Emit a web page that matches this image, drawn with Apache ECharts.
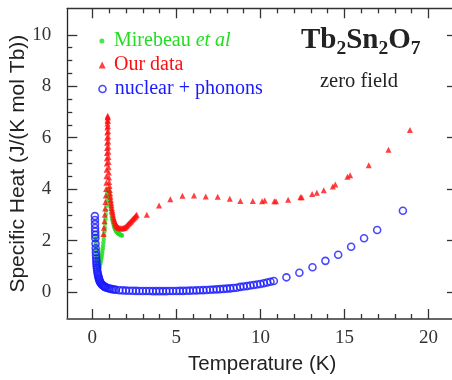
<!DOCTYPE html>
<html><head><meta charset="utf-8">
<script src="https://cdn.jsdelivr.net/npm/echarts@6/dist/echarts.min.js"></script>
<style>html,body{margin:0;padding:0;background:#fff}#c{width:452px;height:380px}</style>
</head><body><div id="c"></div>
<script>
// ---- tick positions ----
const xMajorTicks = [0, 5, 10, 15, 20];
const xMinorTicks = [1, 2, 3, 4, 6, 7, 8, 9, 11, 12, 13, 14, 16, 17, 18, 19];
const yMajorTicks = [0, 2, 4, 6, 8, 10];
const yMinorTicks = [0.5, 1, 1.5, 2.5, 3, 3.5, 4.5, 5, 5.5, 6.5, 7, 7.5, 8.5, 9, 9.5];

// ---- Mirebeau et al (green) ----
const mirebeauT = [0.19,0.20,0.21,0.22,0.23,0.24,0.25,0.26,0.27,0.28,0.29,0.30,0.31,0.32,0.33,0.34,0.35,0.36,0.37,0.38,0.39,0.40,
  0.42,0.44,0.46,0.48,0.50,0.52,0.54,0.56,0.58,0.60,0.62,0.64,0.66,0.68,0.70,0.72,0.74,0.76,0.78,0.80,0.82,0.84,0.86,0.88,0.90,0.92,0.94,0.96,0.98,1.00,1.02,1.04,1.06,1.08,1.10,
  1.13,1.16,1.19,1.22,1.25,1.28,1.31,1.34,1.37,1.40,1.43,1.46,1.49,1.52,1.55,1.58,1.61,1.64,1.67,1.70,1.73,1.76];
const mirebeauC = [2.20,2.05,1.90,1.77,1.65,1.54,1.44,1.35,1.27,1.20,1.13,1.07,1.02,0.98,0.94,0.91,0.89,0.88,0.88,0.89,0.90,0.92,
  0.97,1.02,1.08,1.14,1.20,1.27,1.34,1.42,1.51,1.60,1.70,1.81,1.93,2.06,2.20,2.35,2.50,2.66,2.83,3.00,3.17,3.35,3.53,3.70,3.85,3.96,4.00,3.96,3.88,3.80,3.68,3.56,3.44,3.32,3.21,
  3.06,2.93,2.82,2.73,2.65,2.58,2.52,2.46,2.42,2.38,2.35,2.33,2.31,2.29,2.27,2.26,2.25,2.24,2.23,2.22,2.21,2.20];

// ---- Our data (red) ----
const ourT = [0.66,0.69,0.72,0.74,0.76,0.78,0.80,0.82,0.83,0.84,0.85,0.86,0.865,0.87,0.875,0.88,0.885,0.89,0.895,0.90,0.905,0.91,0.915,
  0.92,0.925,0.93,0.935,0.94,0.945,0.95,0.955,0.96,0.965,0.97,0.98,0.99,1.00,1.02,1.04,1.06,1.08,1.10,1.12,1.14,1.16,1.18,1.20,
  1.23,1.26,1.29,1.32,1.35,1.38,1.41,1.44,1.47,1.50,1.55,1.60,1.65,1.70,1.75,1.80,1.85,1.90,1.95,2.00,2.05,2.10,2.15,2.20,2.25,2.30,2.35,2.40,2.45,2.50,2.55,2.60,2.64,
  3.24,3.97,4.64,5.36,6.05,6.75,7.46,8.18,8.81,9.55,10.10,10.26,10.83,10.93,11.65,12.38,12.46,13.08,13.36,13.77,14.31,14.46,15.18,15.34,16.45,17.62,18.90];
const ourC = [2.25,2.50,2.75,3.00,3.25,3.50,3.75,4.00,4.25,4.50,4.75,5.00,5.20,5.40,5.60,5.80,6.00,6.20,6.40,6.55,6.68,6.78,6.85,
  6.80,6.65,6.45,6.25,6.05,5.85,5.65,5.45,5.25,5.05,4.85,4.65,4.45,4.28,4.12,3.97,3.83,3.70,3.58,3.47,3.37,3.27,3.18,3.10,
  3.00,2.91,2.83,2.76,2.70,2.65,2.61,2.58,2.55,2.53,2.51,2.49,2.48,2.48,2.47,2.48,2.49,2.50,2.52,2.55,2.58,2.61,2.65,2.68,2.72,2.75,2.79,2.83,2.86,2.90,2.93,2.97,3.00,
  3.00,3.36,3.61,3.74,3.75,3.71,3.70,3.63,3.54,3.54,3.53,3.56,3.53,3.53,3.59,3.68,3.68,3.81,3.86,3.96,4.10,4.18,4.48,4.54,4.93,5.53,6.30];

// ---- nuclear + phonons (blue) ----
const nucT = [0.15,0.155,0.16,0.165,0.17,0.175,0.18,0.19,0.20,0.21,0.22,0.23,0.24,0.25,0.26,0.27,0.28,0.30,0.32,0.34,0.36,0.38,0.40,0.42,0.45,0.48,0.51,0.55,0.60,0.65,0.70,0.75,0.80,0.90,1.00,1.10,1.20,1.30,1.40,
  1.6,1.8,2.0,2.2,2.4,2.6,2.8,3.0,3.2,3.4,3.6,3.8,4.0,4.2,4.4,4.6,4.8,5.0,5.2,5.4,5.6,5.8,6.0,6.2,6.4,6.6,6.8,7.0,7.2,7.4,7.6,7.8,8.0,8.2,8.4,8.6,8.8,9.0,9.2,9.4,9.6,9.8,10.0,10.2,10.4,10.6,10.8,
  11.55,12.32,13.10,13.87,14.63,15.40,16.17,16.95,18.48];
const nucC = [2.95,2.80,2.64,2.49,2.35,2.22,2.09,1.88,1.70,1.55,1.42,1.30,1.20,1.11,1.03,0.96,0.89,0.80,0.72,0.66,0.60,0.55,0.50,0.46,0.41,0.37,0.34,0.30,0.27,0.24,0.22,0.20,0.18,0.155,0.135,0.12,0.105,0.095,0.085,
  0.070,0.062,0.055,0.050,0.046,0.043,0.041,0.039,0.037,0.036,0.035,0.035,0.034,0.035,0.035,0.036,0.038,0.040,0.042,0.045,0.048,0.052,0.056,0.061,0.066,0.072,0.079,0.086,0.094,0.102,0.111,0.121,0.131,0.142,0.154,0.167,0.20,0.215,0.23,0.25,0.27,0.29,0.31,0.34,0.37,0.40,0.43,
  0.57,0.75,0.96,1.21,1.45,1.76,2.09,2.41,3.16];

const GREEN = '#22dd22', RED = '#ff1010', BLUE = '#1a1aff';
const serif = '"Liberation Serif","Times New Roman",serif';
const sans = '"Liberation Sans",Arial,sans-serif';
const X0 = -1.49, X1 = 21.7, Y0 = -1.05, Y1 = 11.03;
const pairs = (a, b) => a.map((v, i) => [v, b[i]]);

function axis(pos, ticks, len, line, extra) {
  return Object.assign({
    type: 'value', position: pos,
    min: (pos === 'left' || pos === 'right') ? Y0 : X0,
    max: (pos === 'left' || pos === 'right') ? Y1 : X1,
    axisLine: line ? { show: true, onZero: false, lineStyle: line } : { show: false, onZero: false },
    axisTick: { show: true, inside: true, length: len, customValues: ticks, lineStyle: { color: '#333', width: 1.3 } },
    axisLabel: { show: false },
    splitLine: { show: false }, minorTick: { show: false }
  }, extra || {});
}
const tickLabel = { fontFamily: serif, fontSize: 19, color: '#333' };

const chart = echarts.init(document.getElementById('c'), null, { renderer: 'canvas' });
chart.setOption({
  animation: false,
  backgroundColor: '#fff',
  grid: { left: 67.3, right: -5, top: 8.3, bottom: 61, containLabel: false, outerBoundsMode: 'none' },
  xAxis: [
    axis('bottom', xMajorTicks, 10, { color: '#666', width: 2 }, {
      axisLabel: Object.assign({ show: true, customValues: xMajorTicks, margin: 10 }, tickLabel),
      name: 'Temperature (K)', nameLocation: 'middle', nameGap: 35, nameMoveOverlap: false,
      nameTextStyle: { fontFamily: sans, fontSize: 20.5, color: '#222' }
    }),
    axis('top', xMajorTicks, 10, { color: '#333', width: 1.3 }),
    axis('bottom', xMinorTicks, 5, null),
    axis('top', xMinorTicks, 5, null)
  ],
  yAxis: [
    axis('left', yMajorTicks, 10, { color: '#222', width: 1.3 }, {
      axisLabel: Object.assign({ show: true, customValues: yMajorTicks, margin: 16 }, tickLabel),
      name: 'Specific Heat (J/(K mol Tb))', nameLocation: 'middle', nameGap: 39, nameMoveOverlap: false,
      nameTextStyle: { fontFamily: sans, fontSize: 21, color: '#222' }
    }),
    axis('right', yMajorTicks, 10, { color: '#222', width: 1.3 }),
    axis('left', yMinorTicks, 5, null),
    axis('right', yMinorTicks, 5, null)
  ],
  title: [
    { text: '{a|Tb}{b|2}{a|Sn}{b|2}{a|O}{b|7}', left: 301, top: 23, padding: 0,
      textStyle: { rich: {
        a: { fontFamily: serif, fontSize: 29, fontWeight: 'bold', color: '#222', lineHeight: 36 },
        b: { fontFamily: serif, fontSize: 19.5, fontWeight: 'bold', color: '#222', lineHeight: 22, verticalAlign: 'bottom' }
      } } },
    { text: 'zero field', left: 320, top: 71, padding: 0,
      textStyle: { fontFamily: serif, fontSize: 20.5, fontWeight: 'normal', color: '#222' } }
  ],
  legend: [
    { data: [{ name: 'Mirebeau et al', icon: 'circle' }], left: 99.4, top: 31, padding: 0, itemWidth: 5, itemHeight: 5,
      formatter: () => 'Mirebeau {i|et al}',
      textStyle: { fontFamily: serif, fontSize: 20, color: GREEN, lineHeight: 20, padding: [0, 0, 0, 4.6],
        rich: { i: { fontFamily: serif, fontSize: 20, fontStyle: 'italic', color: GREEN, lineHeight: 20 } } } },
    { data: [{ name: 'Our data', icon: 'triangle' }], left: 98.7, top: 55, padding: 0, itemWidth: 7, itemHeight: 7,
      textStyle: { fontFamily: serif, fontSize: 20, color: RED, lineHeight: 20, padding: [0, 0, 0, 3.3] } },
    { data: [{ name: 'nuclear + phonons', icon: 'circle', itemStyle: { color: 'transparent', borderColor: BLUE, borderWidth: 1.6 } }],
      left: 98.2, top: 79, padding: 0, itemWidth: 7, itemHeight: 7,
      textStyle: { fontFamily: serif, fontSize: 20, color: BLUE, lineHeight: 20, padding: [0, 0, 0, 3.8] } }
  ],
  series: [
    { name: 'Mirebeau et al', type: 'scatter', xAxisIndex: 0, yAxisIndex: 0, symbol: 'circle', symbolSize: 4.5,
      itemStyle: { color: GREEN }, data: pairs(mirebeauT, mirebeauC) },
    { name: 'Our data', type: 'scatter', xAxisIndex: 0, yAxisIndex: 0, symbol: 'triangle', symbolSize: 6,
      itemStyle: { color: RED }, data: pairs(ourT, ourC) },
    { name: 'nuclear + phonons', type: 'scatter', xAxisIndex: 0, yAxisIndex: 0, symbol: 'circle', symbolSize: 7,
      itemStyle: { color: 'transparent', borderColor: BLUE, borderWidth: 1.6 }, data: pairs(nucT, nucC) }
  ]
});
</script></body></html>
